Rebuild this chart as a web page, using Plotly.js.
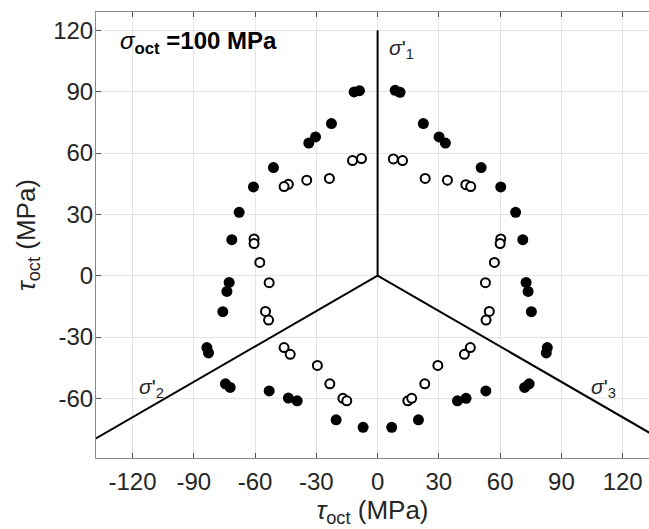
<!DOCTYPE html>
<html>
<head>
<meta charset="utf-8">
<script src="https://cdn.plot.ly/plotly-3.0.1.min.js"></script>
<style>html,body{margin:0;padding:0;background:#fff;overflow:hidden;}</style>
</head>
<body>
<div id="chart" style="width:649px;height:529px;"></div>
<script>
// Filled markers (tau_oct x, tau_oct y), MPa
const filledX = [-11.5, -8.9, -22.6, -30.4, -33.7, -51.0, -60.8,
                 8.6, 11.0, 22.4, 30.1, 33.2, 50.7, 60.3,
                 -67.8, -71.4, -72.7, -73.8, -75.8,
                 67.6, 71.1, 72.7, 73.7, 75.3,
                 -83.6, -82.8, -74.5, -72.2, -53.1, -43.7, -39.4, -20.3, -7.1,
                 6.9, 20.0, 39.1, 43.3, 53.0, 72.0, 74.2, 82.6, 83.1];
const filledY = [89.9, 90.5, 74.4, 67.9, 64.9, 52.9, 43.4,
                 90.7, 89.7, 74.4, 67.9, 64.9, 52.9, 43.4,
                 31.0, 17.6, -3.3, -7.7, -17.6,
                 31.0, 17.6, -3.3, -7.7, -17.6,
                 -35.2, -37.8, -52.9, -54.7, -56.4, -59.9, -61.2, -70.5, -74.2,
                 -74.2, -70.5, -61.2, -60.0, -56.4, -54.7, -52.9, -37.8, -35.2];
// Open markers
const openX = [-7.9, -12.3, -23.6, -34.7, -43.7, -45.8,
               7.7, 12.2, 23.3, 34.2, 43.2, 45.6,
               -60.5, -60.5, -57.7, -53.1, -54.9, -53.4,
               60.3, 60.0, 57.2, 52.8, 54.7, 53.1,
               -45.8, -42.8, -29.5, -23.4, -17.0, -15.1,
               14.8, 16.7, 23.1, 29.5, 42.5, 45.4];
const openY = [57.3, 56.3, 47.6, 46.7, 44.7, 43.6,
               57.1, 56.3, 47.6, 46.7, 44.5, 43.6,
               18.0, 15.7, 6.5, -3.4, -17.5, -21.7,
               18.0, 15.7, 6.5, -3.4, -17.5, -21.7,
               -35.2, -38.5, -43.9, -52.9, -60.0, -61.2,
               -61.2, -60.0, -52.9, -43.9, -38.5, -35.2];
// Principal stress axis projections (from origin)
const axis1X = [0, 0];      const axis1Y = [0, 120];
const axis2X = [0, -138.6]; const axis2Y = [0, -80];
const axis3X = [0, 138.6];  const axis3Y = [0, -80];
const tickVals = [-120, -90, -60, -30, 0, 30, 60, 90, 120];
const tickText = ['-120', '-90', '-60', '-30', '0', '30', '60', '90', '120'];
const yTickVals = [-60, -30, 0, 30, 60, 90, 120];
const yTickText = ['-60', '-30', '0', '30', '60', '90', '120'];

const lineStyle = {color: '#000', width: 2};
const traces = [
  {x: axis1X, y: axis1Y, mode: 'lines', line: lineStyle, hoverinfo: 'skip'},
  {x: axis2X, y: axis2Y, mode: 'lines', line: lineStyle, hoverinfo: 'skip'},
  {x: axis3X, y: axis3Y, mode: 'lines', line: lineStyle, hoverinfo: 'skip'},
  {x: filledX, y: filledY, mode: 'markers', marker: {size: 11, color: '#000', symbol: 'circle'}},
  {x: openX, y: openY, mode: 'markers', marker: {size: 9, color: '#fff', symbol: 'circle', line: {color: '#000', width: 2}}}
];

const fam = 'Liberation Sans, Arial, sans-serif';
const font = {family: fam, size: 24, color: '#262626'};
const axCommon = {
  showgrid: true, gridcolor: '#e5e5e5', gridwidth: 1,
  zeroline: false, showline: true, linecolor: '#8a8a8a', linewidth: 1,
  ticks: 'inside', ticklen: 5, tickcolor: '#555', tickwidth: 1,
  tickfont: font
};
const layout = {
  width: 649, height: 529,
  margin: {l: 96, r: 0, t: 12, b: 71},
  paper_bgcolor: '#fff', plot_bgcolor: '#fff',
  showlegend: false,
  font: font,
  xaxis: Object.assign({}, axCommon, {
    range: [-137.9, 132.9], tickvals: tickVals, ticktext: tickText, mirror: 'ticks',
    ticklabelstandoff: 2,
    title: {text: '<i>τ</i><sub>oct</sub> (MPa)', font: {family: fam, size: 26, color: '#262626'}, standoff: 2}
  }),
  yaxis: Object.assign({}, axCommon, {
    range: [-89.2, 129], tickvals: yTickVals, ticktext: yTickText,
    ticklabelstandoff: -3,
    title: {text: '<i>τ</i><sub>oct</sub> (MPa)', font: {family: fam, size: 26, color: '#262626'}, standoff: 10}
  }),
  annotations: [
    {x: -127, y: 114, xref: 'x', yref: 'y', xanchor: 'left', yanchor: 'middle', showarrow: false,
     text: '<i>σ</i><sub><b>oct</b></sub><b> =100 MPa</b>', font: {family: fam, size: 24, color: '#000'}},
    {x: 4.5, y: 111, xref: 'x', yref: 'y', xanchor: 'left', yanchor: 'middle', showarrow: false,
     text: "<i>σ</i>'<sub>1</sub>", font: {family: fam, size: 21, color: '#262626'}},
    {x: -110.8, y: -55, xref: 'x', yref: 'y', xanchor: 'center', yanchor: 'middle', showarrow: false,
     text: "<i>σ</i>'<sub>2</sub>", font: {family: fam, size: 21, color: '#262626'}},
    {x: 110.4, y: -55, xref: 'x', yref: 'y', xanchor: 'center', yanchor: 'middle', showarrow: false,
     text: "<i>σ</i>'<sub>3</sub>", font: {family: fam, size: 21, color: '#262626'}}
  ]
};
Plotly.newPlot('chart', traces, layout, {displayModeBar: false, staticPlot: true});
</script>
</body>
</html>
